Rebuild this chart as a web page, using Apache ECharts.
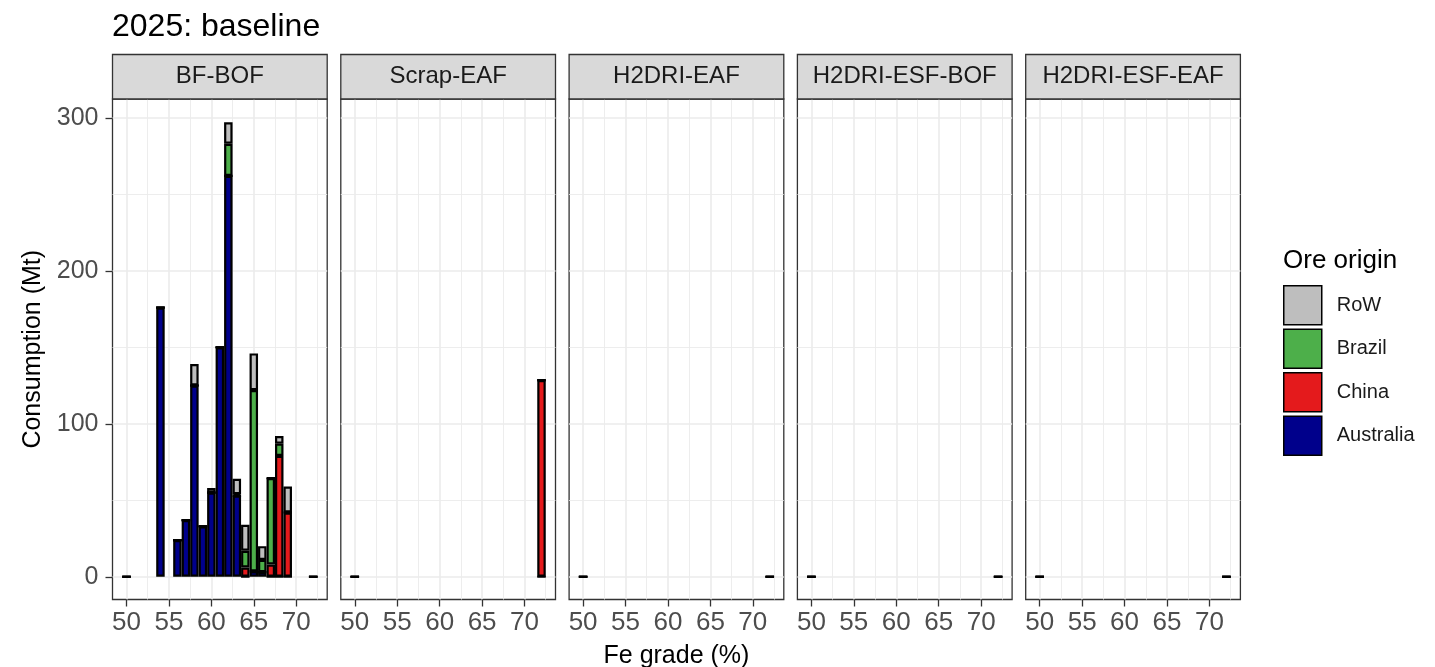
<!DOCTYPE html>
<html><head><meta charset="utf-8">
<script src="https://cdn.jsdelivr.net/npm/echarts@6/dist/echarts.min.js"></script>
<style>html,body{margin:0;padding:0;background:#fff}#chart{width:1435px;height:667px}</style>
</head><body><div id="chart"></div>
<script>
// ---------- data ----------
const chartTitle = '2025: baseline';
const panelNames = ['BF-BOF', 'Scrap-EAF', 'H2DRI-EAF', 'H2DRI-ESF-BOF', 'H2DRI-ESF-EAF'];
const stackOrder = ['Australia', 'China', 'Brazil', 'RoW'];   // bottom -> top
const legendOrder = ['RoW', 'Brazil', 'China', 'Australia'];
const legendTitle = 'Ore origin';
const xAxisTitle = 'Fe grade (%)';
const yAxisTitle = 'Consumption (Mt)';
const xTickLabels = [50, 55, 60, 65, 70];
const xMinorGrid = [52.5, 57.5, 62.5, 67.5, 72.5];
const yTickLabels = [0, 100, 200, 300];
const yMinorGrid = [50, 150, 250];
const gradeCategories = ['50', '51', '52', '53', '54', '55', '56', '57', '58', '59', '60', '61',
  '62', '63', '64', '65', '66', '67', '68', '69', '70', '71', '72'];

const bfbofGrades    = [50, 54, 56, 57, 58, 59, 60, 61, 62, 63, 64, 65, 66, 67, 68, 69, 72];
const bfbofAustralia = [0, 176, 24, 37, 125, 33, 55, 150, 262, 53, 0, 3.5, 3, 0, 0, 0, 0];
const bfbofChina     = [0, 0, 0, 0, 0, 0, 0, 0, 0, 0, 6, 0, 0, 8, 79, 42, 0];
const bfbofBrazil    = [0, 0, 0, 0, 0, 0, 0, 0, 21, 1, 11, 118.5, 8, 56.5, 8, 0, 0];
const bfbofRoW       = [0, 0, 0, 0, 14, 0, 3, 0, 14, 10, 17, 24, 9, 0, 5, 17, 0];

const scrapGrades    = [50, 72];
const scrapAustralia = [0, 0];
const scrapChina     = [0, 128.5];
const scrapBrazil    = [0, 0];
const scrapRoW       = [0, 0];

const h2eafGrades    = [50, 72];
const h2eafAustralia = [0, 0];
const h2eafChina     = [0, 0];
const h2eafBrazil    = [0, 0];
const h2eafRoW       = [0, 0];

const h2bofGrades    = [50, 72];
const h2bofAustralia = [0, 0];
const h2bofChina     = [0, 0];
const h2bofBrazil    = [0, 0];
const h2bofRoW       = [0, 0];

const h2esfGrades    = [50, 72];
const h2esfAustralia = [0, 0];
const h2esfChina     = [0, 0];
const h2esfBrazil    = [0, 0];
const h2esfRoW       = [0, 0];

// ---------- assembly ----------
const panelData = [
  { grades: bfbofGrades, Australia: bfbofAustralia, China: bfbofChina, Brazil: bfbofBrazil, RoW: bfbofRoW },
  { grades: scrapGrades, Australia: scrapAustralia, China: scrapChina, Brazil: scrapBrazil, RoW: scrapRoW },
  { grades: h2eafGrades, Australia: h2eafAustralia, China: h2eafChina, Brazil: h2eafBrazil, RoW: h2eafRoW },
  { grades: h2bofGrades, Australia: h2bofAustralia, China: h2bofChina, Brazil: h2bofBrazil, RoW: h2bofRoW },
  { grades: h2esfGrades, Australia: h2esfAustralia, China: h2esfChina, Brazil: h2esfBrazil, RoW: h2esfRoW }
];
const colors = { Australia: '#00008B', China: '#E41A1C', Brazil: '#4DAF4A', RoW: '#BEBEBE' };

const FONT = '"Liberation Sans", Arial, sans-serif';
const X_MIN = 48.35, X_MAX = 73.65, Y_MIN = -14.87, Y_MAX = 312.27;
const gridLeft0 = 112.5, gridStep = 228.3, gridW = 214.7, gridTop = 99, gridH = 500.5;
const stripTop = 54.5, stripH = 44.5;
const pxPerUnit = gridW / (X_MAX - X_MIN);
const catLo = Number(gradeCategories[0]) - 0.5;
const catHi = Number(gradeCategories[gradeCategories.length - 1]) + 0.5;

const grids = [], xAxes = [], yAxes = [], series = [], graphics = [];
const nP = panelNames.length;
// outer grids (frame, gridlines, ticks)
panelNames.forEach((name, i) => {
  const left = gridLeft0 + i * gridStep;
  grids.push({ left: left, top: gridTop, width: gridW, height: gridH, show: true, outerBoundsMode: 'none',
    containLabel: false, borderColor: '#333333', borderWidth: 1.3, backgroundColor: '#ffffff' });
});
// inner grids (bars on a category axis spanning the category band)
panelNames.forEach((name, i) => {
  const left = gridLeft0 + i * gridStep + (catLo - X_MIN) * pxPerUnit;
  grids.push({ left: left, top: gridTop, width: (catHi - catLo) * pxPerUnit, height: gridH, show: false,
    outerBoundsMode: 'none', containLabel: false });
});
panelNames.forEach((name, i) => {
  xAxes.push({
    gridIndex: i, type: 'value', min: X_MIN, max: X_MAX, position: 'bottom',
    axisLine: { show: false, onZero: false },
    axisTick: { show: true, customValues: xTickLabels, length: 7, lineStyle: { color: '#333333', width: 1.3 } },
    axisLabel: { show: true, customValues: xTickLabels, fontSize: 26, color: '#4D4D4D', margin: 10, fontFamily: FONT },
    splitLine: { show: true, lineStyle: { color: '#EBEBEB', width: 1.6 } },
    name: i === 2 ? xAxisTitle : '', nameLocation: 'middle', nameGap: 44,
    nameTextStyle: { fontSize: 25, color: '#000000', fontFamily: FONT }
  });
  yAxes.push({
    gridIndex: i, type: 'value', min: Y_MIN, max: Y_MAX, position: 'left',
    axisLine: { show: false, onZero: false },
    axisTick: { show: i === 0, customValues: yTickLabels, length: 7, lineStyle: { color: '#333333', width: 1.3 } },
    axisLabel: { show: i === 0, customValues: yTickLabels, fontSize: 25, color: '#4D4D4D', margin: 14, fontFamily: FONT },
    splitLine: { show: true, lineStyle: { color: '#EBEBEB', width: 1.6 } },
    name: i === 0 ? yAxisTitle : '', nameLocation: 'middle', nameGap: 67,
    nameTextStyle: { fontSize: 25, color: '#000000', fontFamily: FONT }
  });
});
panelNames.forEach((name, i) => {
  xAxes.push({
    gridIndex: i, type: 'value', min: X_MIN, max: X_MAX, position: 'top',
    axisLine: { show: false, onZero: false }, axisTick: { show: false, customValues: xMinorGrid },
    axisLabel: { show: false },
    splitLine: { show: true, lineStyle: { color: '#EBEBEB', width: 0.9 } }
  });
  yAxes.push({
    gridIndex: i, type: 'value', min: Y_MIN, max: Y_MAX, position: 'right',
    axisLine: { show: false, onZero: false }, axisTick: { show: false, customValues: yMinorGrid },
    axisLabel: { show: false },
    splitLine: { show: true, lineStyle: { color: '#EBEBEB', width: 0.9 } }
  });
});
panelNames.forEach((name, i) => {
  xAxes.push({
    gridIndex: nP + i, type: 'category', data: gradeCategories, boundaryGap: true,
    axisLine: { show: false, onZero: false }, axisTick: { show: false }, axisLabel: { show: false }, splitLine: { show: false }
  });
  yAxes.push({
    gridIndex: nP + i, type: 'value', min: Y_MIN, max: Y_MAX,
    axisLine: { show: false, onZero: false }, axisTick: { show: false }, axisLabel: { show: false }, splitLine: { show: false }
  });
});
panelData.forEach((pd, i) => {
  stackOrder.forEach(origin => {
    series.push({
      type: 'bar', name: origin, xAxisIndex: 2 * nP + i, yAxisIndex: 2 * nP + i, stack: 'p' + i,
      barWidth: pxPerUnit, silent: true, z: 3,
      itemStyle: { color: colors[origin], borderColor: '#000000', borderWidth: 2.2 },
      emphasis: { disabled: true },
      data: pd.grades.map((g, k) => [String(g), pd[origin][k]])
    });
  });
});
panelNames.forEach((name, i) => {
  const left = gridLeft0 + i * gridStep;
  graphics.push({ type: 'rect', silent: true, z: 10,
    shape: { x: left, y: stripTop, width: gridW, height: stripH },
    style: { fill: '#D9D9D9', stroke: '#333333', lineWidth: 1.3 } });
  graphics.push({ type: 'text', silent: true, z: 11, x: left + gridW / 2, y: stripTop + stripH / 2,
    style: { text: name, font: '24px ' + FONT, fill: '#1A1A1A', align: 'center', verticalAlign: 'middle',
      textAlign: 'center', textVerticalAlign: 'middle' } });
});

const option = {
  animation: false,
  textStyle: { fontFamily: FONT },
  title: [
    { text: chartTitle, left: 112, top: 11, padding: 0,
      textStyle: { fontSize: 32, fontWeight: 'normal', color: '#000000', fontFamily: FONT } },
    { text: legendTitle, left: 1283, top: 248, padding: 0,
      textStyle: { fontSize: 26, fontWeight: 'normal', color: '#000000', fontFamily: FONT } }
  ],
  legend: {
    data: legendOrder, orient: 'vertical', left: 1283, top: 285, padding: 0,
    itemWidth: 38, itemHeight: 39, itemGap: 3, icon: 'rect', selectedMode: false,
    itemStyle: { borderColor: '#000000', borderWidth: 1.5 },
    textStyle: { fontSize: 20, color: '#1A1A1A', fontFamily: FONT, padding: [0, 0, 0, 10] }
  },
  grid: grids, xAxis: xAxes, yAxis: yAxes, series: series, graphic: graphics
};
const chart = echarts.init(document.getElementById('chart'), null, { renderer: 'canvas' });
chart.setOption(option);
</script></body></html>
